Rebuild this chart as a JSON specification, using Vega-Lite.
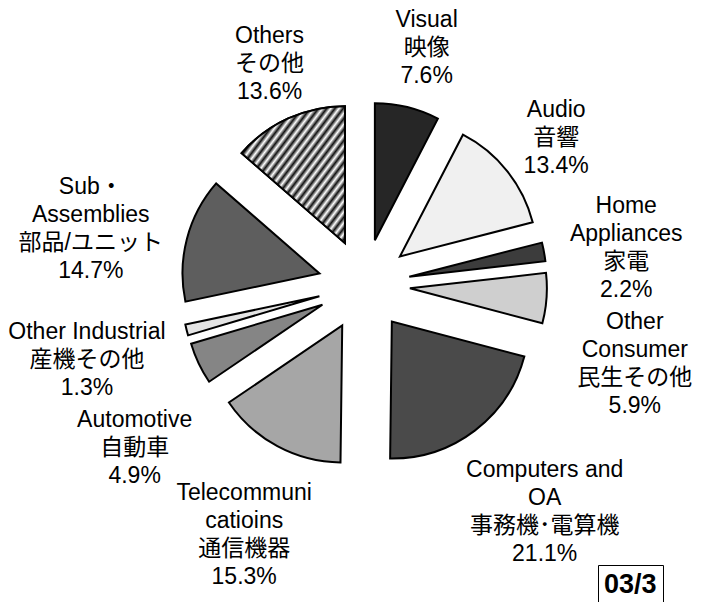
{
  "$schema": "https://vega.github.io/schema/vega-lite/v6.json",
  "width": 705,
  "height": 602,
  "autosize": {"type": "none"},
  "padding": 0,
  "background": "white",
  "config": {"view": {"stroke": null}},
  "data": {
    "values": [
      {"en": "Visual", "ja": "映像", "v": 7.6},
      {"en": "Audio", "ja": "音響", "v": 13.4},
      {"en": "Home\nAppliances", "ja": "家電", "v": 2.2},
      {"en": "Other\nConsumer", "ja": "民生その他", "v": 5.9},
      {"en": "Computers and\nOA", "ja": "事務機･電算機", "v": 21.1},
      {"en": "Telecommuni\ncatioins", "ja": "通信機器", "v": 15.3},
      {"en": "Automotive", "ja": "自動車", "v": 4.9},
      {"en": "Other Industrial", "ja": "産機その他", "v": 1.3},
      {"en": "Sub・\nAssemblies", "ja": "部品/ユニット", "v": 14.7},
      {"en": "Others", "ja": "その他", "v": 13.6}
    ]
  },
  "transform": [
    {"window": [{"op": "sum", "field": "v", "as": "cum"}], "frame": [null, 0]},
    {"joinaggregate": [{"op": "sum", "field": "v", "as": "total"}]},
    {"calculate": "datum.cum - datum.v", "as": "start"},
    {"calculate": "2 * PI * (datum.cum - datum.v / 2) / datum.total", "as": "mid"},
    {"calculate": "sin(datum.mid)", "as": "s"},
    {"calculate": "cos(datum.mid)", "as": "c"},
    {"calculate": "46 * datum.s", "as": "ex"},
    {"calculate": "-46 * datum.c", "as": "ey"},
    {"calculate": "'03/3'", "as": "tag"},
    {"calculate": "split(datum.en, '\\n')", "as": "enl"},
    {"calculate": "datum.en + '\\n' + datum.ja + '\\n' + format(datum.v, '.1f') + '%'", "as": "label"},
    {"calculate": "28 * (datum.enl.length + 2)", "as": "h"},
    {"calculate": "max(length(datum.enl[0]) * 10.5, datum.enl.length > 1 ? length(datum.enl[1]) * 10.5 : 0, length(datum.ja) * 23, 60)", "as": "w"},
    {"calculate": "12 - 214 * datum.c - datum.h / 2 * datum.c - datum.h / 2", "as": "top0"},
    {"calculate": "datum.s >= 0 ? 'R' : 'L'", "as": "side"},
    {"window": [{"op": "lag", "field": "top0", "as": "pt"}, {"op": "lag", "field": "h", "as": "ph"}], "groupby": ["side"], "sort": [{"field": "top0", "order": "ascending"}]},
    {"calculate": "isValid(datum.pt) ? max(datum.top0, datum.pt + datum.ph + 4) : datum.top0", "as": "top"},
    {"calculate": "datum.top + 14", "as": "ly"},
    {"calculate": "6 + (208 + datum.w / 2) * datum.s", "as": "lx"}
  ],
  "resolve": {"scale": {"color": "independent"}, "legend": {"color": "independent"}},
  "layer": [
    {
      "mark": {"type": "arc", "outerRadius": 137, "stroke": "black", "strokeWidth": 2, "strokeJoin": "miter"},
      "encoding": {
        "theta": {"field": "start", "type": "quantitative", "stack": null, "scale": {"domain": [0, 100]}},
        "theta2": {"field": "cum"},
        "x": {"field": "ex", "type": "quantitative", "scale": {"domain": [-364, 341], "range": [0, 705]}, "axis": null},
        "y": {"field": "ey", "type": "quantitative", "scale": {"domain": [-285, 317], "range": [0, 602]}, "axis": null},
        "color": {
          "field": "ja",
          "type": "nominal",
          "scale": {
            "domain": ["映像", "音響", "家電", "民生その他", "事務機･電算機", "通信機器", "自動車", "産機その他", "部品/ユニット", "その他"],
            "range": ["#262626", "#f0f0f0", "#3c3c3c", "#cfcfcf", "#4a4a4a", "#a6a6a6", "#858585", "#e4e4e4", "#5e5e5e", "#8c8c8c"]
          },
          "legend": null
        }
      }
    },
    {
      "transform": [{"filter": "datum.ja == 'その他'"}],
      "mark": {
        "type": "arc",
        "outerRadius": 137,
        "stroke": "black",
        "strokeWidth": 2,
        "strokeJoin": "miter",
        "fill": {
          "gradient": "linear",
          "x1": 0, "y1": 0, "x2": 1, "y2": 1,
          "stops": [
            {"offset": 0, "color": "#ffffff"}, {"offset": 0.02, "color": "#111111"},
            {"offset": 0.04, "color": "#ffffff"}, {"offset": 0.06, "color": "#111111"},
            {"offset": 0.08, "color": "#ffffff"}, {"offset": 0.1, "color": "#111111"},
            {"offset": 0.12, "color": "#ffffff"}, {"offset": 0.14, "color": "#111111"},
            {"offset": 0.16, "color": "#ffffff"}, {"offset": 0.18, "color": "#111111"},
            {"offset": 0.2, "color": "#ffffff"}, {"offset": 0.22, "color": "#111111"},
            {"offset": 0.24, "color": "#ffffff"}, {"offset": 0.26, "color": "#111111"},
            {"offset": 0.28, "color": "#ffffff"}, {"offset": 0.3, "color": "#111111"},
            {"offset": 0.32, "color": "#ffffff"}, {"offset": 0.34, "color": "#111111"},
            {"offset": 0.36, "color": "#ffffff"}, {"offset": 0.38, "color": "#111111"},
            {"offset": 0.4, "color": "#ffffff"}, {"offset": 0.42, "color": "#111111"},
            {"offset": 0.44, "color": "#ffffff"}, {"offset": 0.46, "color": "#111111"},
            {"offset": 0.48, "color": "#ffffff"}, {"offset": 0.5, "color": "#111111"},
            {"offset": 0.52, "color": "#ffffff"}, {"offset": 0.54, "color": "#111111"},
            {"offset": 0.56, "color": "#ffffff"}, {"offset": 0.58, "color": "#111111"},
            {"offset": 0.6, "color": "#ffffff"}, {"offset": 0.62, "color": "#111111"},
            {"offset": 0.64, "color": "#ffffff"}, {"offset": 0.66, "color": "#111111"},
            {"offset": 0.68, "color": "#ffffff"}, {"offset": 0.7, "color": "#111111"},
            {"offset": 0.72, "color": "#ffffff"}, {"offset": 0.74, "color": "#111111"},
            {"offset": 0.76, "color": "#ffffff"}, {"offset": 0.78, "color": "#111111"},
            {"offset": 0.8, "color": "#ffffff"}, {"offset": 0.82, "color": "#111111"},
            {"offset": 0.84, "color": "#ffffff"}, {"offset": 0.86, "color": "#111111"},
            {"offset": 0.88, "color": "#ffffff"}, {"offset": 0.9, "color": "#111111"},
            {"offset": 0.92, "color": "#ffffff"}, {"offset": 0.94, "color": "#111111"},
            {"offset": 0.96, "color": "#ffffff"}, {"offset": 0.98, "color": "#111111"},
            {"offset": 1, "color": "#ffffff"}
          ]
        }
      },
      "encoding": {
        "theta": {"field": "start", "type": "quantitative", "stack": null, "scale": {"domain": [0, 100]}},
        "theta2": {"field": "cum"},
        "x": {"field": "ex", "type": "quantitative", "scale": {"domain": [-364, 341], "range": [0, 705]}, "axis": null},
        "y": {"field": "ey", "type": "quantitative", "scale": {"domain": [-285, 317], "range": [0, 602]}, "axis": null}
      }
    },
    {
      "mark": {"type": "text", "align": "center", "baseline": "middle", "lineBreak": "\n", "lineHeight": 28, "fontSize": 23, "font": "Liberation Sans, Noto Sans CJK JP"},
      "encoding": {
        "x": {"field": "lx", "type": "quantitative", "scale": {"domain": [-364, 341], "range": [0, 705]}, "axis": null},
        "y": {"field": "ly", "type": "quantitative", "scale": {"domain": [-285, 317], "range": [0, 602]}, "axis": null},
        "text": {"field": "label", "type": "nominal"},
        "color": {
          "field": "tag",
          "type": "nominal",
          "scale": {"domain": ["03/3"], "range": ["black"]},
          "legend": {
            "title": null,
            "orient": "none",
            "legendX": 598,
            "legendY": 565,
            "symbolType": "square",
            "symbolSize": 0,
            "symbolOpacity": 0,
            "symbolStrokeWidth": 0,
            "columnPadding": 0,
            "labelOffset": -27,
            "labelAlign": "left",
            "labelFontSize": 27,
            "labelFontWeight": "bold",
            "labelFont": "Liberation Sans",
            "labelColor": "black",
            "strokeColor": "black",
            "fillColor": "white",
            "padding": 6
          }
        }
      }
    }
  ]
}
